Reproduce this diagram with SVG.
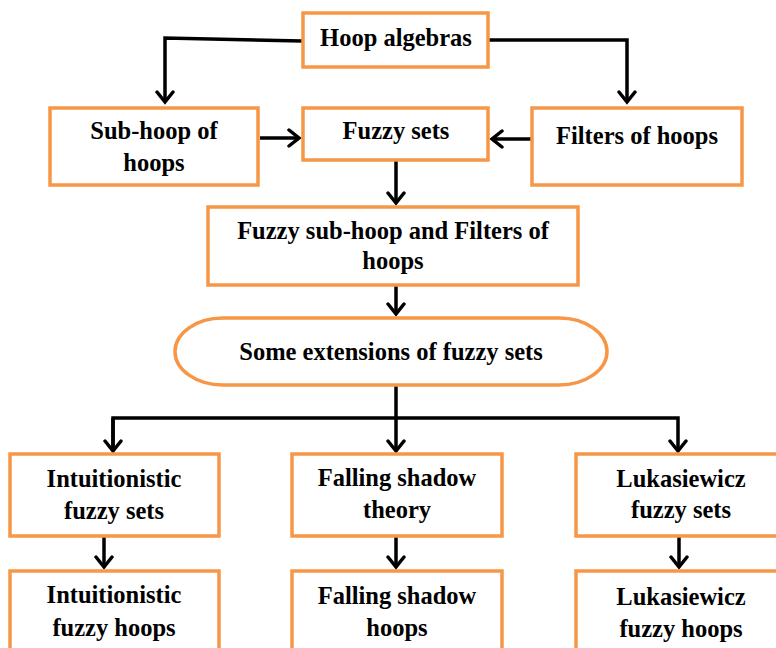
<svg xmlns="http://www.w3.org/2000/svg" width="776" height="648" viewBox="0 0 776 648">
<style>
.box{fill:#fff;stroke:#F79646;stroke-width:3.5}
.t{font-family:'Liberation Serif';font-weight:bold;font-size:24.5px;fill:#000;text-anchor:middle}
.c{fill:none;stroke:#000;stroke-width:3.5}
</style>
<defs>
<marker id="ah" markerUnits="userSpaceOnUse" markerWidth="24" markerHeight="24" viewBox="-12 -12 24 24" refX="0" refY="0" orient="auto">
<path d="M-10,-8 L0,0 L-10,8" fill="none" stroke="#000" stroke-width="3.5" stroke-linecap="round" stroke-linejoin="miter"/>
</marker>
</defs>
<rect width="776" height="648" fill="#fff"/>
<g id="connectors">
<path class="c" d="M302,41 L165,38 L165,102" marker-end="url(#ah)"/>
<path class="c" d="M489,40 L627,40 L627,102" marker-end="url(#ah)"/>
<path class="c" d="M260,138 L299,138" marker-end="url(#ah)"/>
<path class="c" d="M532,139 L492,139" marker-end="url(#ah)"/>
<path class="c" d="M396,161 L396,203" marker-end="url(#ah)"/>
<path class="c" d="M396,286 L396,314" marker-end="url(#ah)"/>
<path class="c" d="M396,386 L396,418"/>
<path class="c" d="M113,451 L113,418 L678,418 L678,451" marker-end="url(#ah)"/>
<path class="c" d="M113,418 L113,451" marker-end="url(#ah)"/>
<path class="c" d="M396,418 L396,451" marker-end="url(#ah)"/>
<path class="c" d="M104,536 L104,567" marker-end="url(#ah)"/>
<path class="c" d="M396,536 L396,567" marker-end="url(#ah)"/>
<path class="c" d="M679,536 L679,567" marker-end="url(#ah)"/>
</g>
<g id="hoop-algebras">
<rect class="box" x="303" y="13" width="185" height="54"/>
<text class="t" x="396" y="46">Hoop algebras</text>
</g>
<g id="sub-hoop">
<rect class="box" x="50" y="108" width="208" height="77"/>
<text class="t" x="154" y="139">Sub-hoop of</text>
<text class="t" x="154" y="171">hoops</text>
</g>
<g id="fuzzy-sets">
<rect class="box" x="303" y="108" width="185" height="52"/>
<text class="t" x="396" y="139">Fuzzy sets</text>
</g>
<g id="filters">
<rect class="box" x="532" y="108" width="210" height="77"/>
<text class="t" x="637" y="144">Filters of hoops</text>
</g>
<g id="fuzzy-sub-hoop">
<rect class="box" x="208" y="207" width="370" height="78"/>
<text class="t" x="393" y="239">Fuzzy sub-hoop and Filters of</text>
<text class="t" x="393" y="269">hoops</text>
</g>
<g id="extensions">
<rect class="box" x="175" y="318" width="432" height="67" rx="48" ry="33.5"/>
<text class="t" x="391" y="360">Some extensions of fuzzy sets</text>
</g>
<g id="intuitionistic-sets">
<rect class="box" x="10" y="454" width="209" height="82"/>
<text class="t" x="114" y="487">Intuitionistic</text>
<text class="t" x="114" y="519">fuzzy sets</text>
</g>
<g id="falling-shadow-theory">
<rect class="box" x="292" y="454" width="210" height="82"/>
<text class="t" x="397" y="486">Falling shadow</text>
<text class="t" x="397" y="518">theory</text>
</g>
<g id="lukasiewicz-sets">
<rect class="box" x="576" y="454" width="210" height="82"/>
<text class="t" x="681" y="487">Lukasiewicz</text>
<text class="t" x="681" y="518">fuzzy sets</text>
</g>
<g id="intuitionistic-hoops">
<rect class="box" x="10" y="571" width="209" height="90"/>
<text class="t" x="114" y="603">Intuitionistic</text>
<text class="t" x="114" y="636">fuzzy hoops</text>
</g>
<g id="falling-shadow-hoops">
<rect class="box" x="292" y="571" width="210" height="90"/>
<text class="t" x="397" y="604">Falling shadow</text>
<text class="t" x="397" y="636">hoops</text>
</g>
<g id="lukasiewicz-hoops">
<rect class="box" x="576" y="571" width="210" height="90"/>
<text class="t" x="681" y="605">Lukasiewicz</text>
<text class="t" x="681" y="637">fuzzy hoops</text>
</g>
</svg>
